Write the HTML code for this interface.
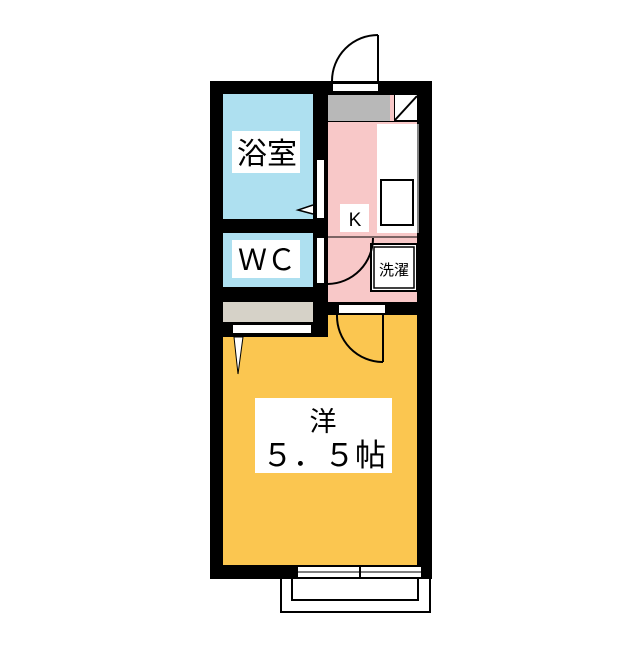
<!DOCTYPE html><html><head><style>body{margin:0;background:#fff}</style></head><body>
<svg width="640" height="640" xmlns="http://www.w3.org/2000/svg" style="font-family:'Liberation Sans','Noto Sans CJK JP',sans-serif">
<rect width="640" height="640" fill="#fff"/>
<rect x="210" y="81" width="222" height="498" fill="#000"/>
<rect x="223" y="94" width="90" height="125" fill="#aee0f0"/>
<rect x="223" y="233" width="90" height="54" fill="#aee0f0"/>
<rect x="328" y="122" width="89" height="180" fill="#f8c8c8"/>
<rect x="328" y="95" width="62" height="26" fill="#b8b8b8"/>
<rect x="390" y="95" width="4" height="26" fill="#f8c8c8"/>
<rect x="395" y="95" width="22" height="25" fill="#fff"/>
<line x1="395" y1="120" x2="417" y2="96" stroke="#000" stroke-width="2"/>
<rect x="223" y="302" width="90" height="20" fill="#d6d2c8"/>
<rect x="233" y="325" width="78" height="8" fill="#fff"/>
<rect x="223" y="337" width="194" height="228" fill="#fbc650"/>
<rect x="328" y="315" width="89" height="25" fill="#fbc650"/>
<rect x="377" y="124" width="42" height="109" fill="#fff"/>
<line x1="418" y1="124" x2="418" y2="233" stroke="#000" stroke-width="1"/>
<rect x="381" y="180" width="32" height="45" fill="#fff" stroke="#000" stroke-width="2"/>
<line x1="328" y1="237" x2="417" y2="237" stroke="#000" stroke-width="1"/>
<rect x="371" y="244" width="46" height="47" fill="#fff" stroke="#000" stroke-width="2"/>
<rect x="374" y="247" width="40" height="41" fill="#fff" stroke="#000" stroke-width="1.5"/>
<text x="394" y="275" font-size="15" text-anchor="middle">洗濯</text>
<rect x="333" y="84" width="45" height="7" fill="#fff"/>
<line x1="378" y1="35" x2="378" y2="82" stroke="#000" stroke-width="2"/>
<path d="M378 35 A46 46 0 0 0 332 81" fill="none" stroke="#000" stroke-width="2"/>
<rect x="317" y="160" width="7" height="58" fill="#fff"/>
<path d="M313 205 L298 210 L313 214" fill="#fff" stroke="#000" stroke-width="1.5"/>
<rect x="317" y="238" width="7" height="45" fill="#fff"/>
<path d="M328 284 A46 46 0 0 0 373 238" fill="none" stroke="#000" stroke-width="2"/>
<rect x="339" y="305" width="46" height="8" fill="#fff"/>
<line x1="383" y1="315" x2="383" y2="362" stroke="#000" stroke-width="2"/>
<path d="M337 315 A46 46 0 0 0 383 362" fill="none" stroke="#000" stroke-width="2"/>
<path d="M234 337 L238 374 L243 337 Z" fill="#fff" stroke="#000" stroke-width="1"/>
<rect x="298" y="567" width="123" height="11" fill="#fff"/>
<line x1="298" y1="572" x2="421" y2="572" stroke="#000" stroke-width="1"/>
<line x1="360" y1="566" x2="360" y2="579" stroke="#000" stroke-width="2"/>
<rect x="281" y="578" width="149" height="34" fill="none" stroke="#000" stroke-width="2"/>
<rect x="292" y="578" width="126" height="22" fill="none" stroke="#000" stroke-width="2"/>
<rect x="232" y="131" width="68" height="42" fill="#fff"/>
<text x="267" y="164" font-size="30" text-anchor="middle">浴室</text>
<rect x="232" y="240" width="68" height="38" fill="#fff"/>
<text x="267" y="270" font-size="29" text-anchor="middle">ＷＣ</text>
<rect x="340" y="204" width="29" height="28" fill="#fff"/>
<text x="355" y="226" font-size="19" text-anchor="middle">K</text>
<rect x="255" y="398" width="137" height="75" fill="#fff"/>
<text x="323" y="431" font-size="27" text-anchor="middle">洋</text>
<text x="324" y="466" font-size="31" text-anchor="middle">５．５帖</text>
</svg>
</body></html>
